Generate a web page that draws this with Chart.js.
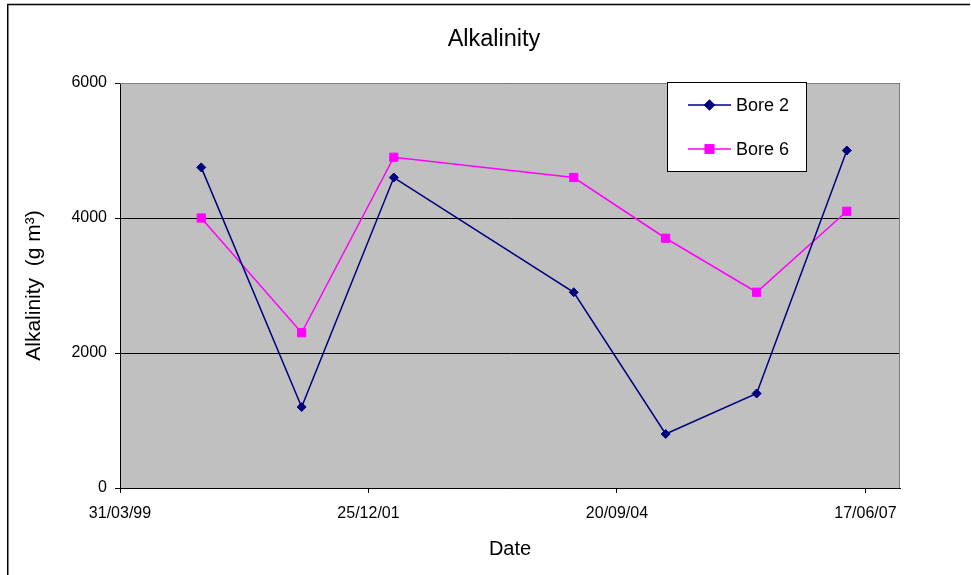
<!DOCTYPE html>
<html>
<head>
<meta charset="utf-8">
<title>Alkalinity</title>
<script src="https://cdn.jsdelivr.net/npm/chart.js@4/dist/chart.umd.min.js"></script>
<style>
  html, body { margin: 0; padding: 0; background: #fff; }
  #wrap { width: 971px; height: 575px; position: relative; }
</style>
</head>
<body>
<div id="wrap"><canvas id="chart" width="971" height="575"></canvas></div>
<script>
// Sampling dates and alkalinity readings (g m^-3 as labelled)
const sampleDates = ['2000-02-21', '2001-03-31', '2002-04-06', '2004-03-30', '2005-04-04', '2006-04-05', '2007-04-03'];
const bore2 = [4750, 1200, 4600, 2900, 800, 1400, 5000];
const bore6 = [4000, 2300, 4900, 4600, 3700, 2900, 4100];

// Date axis: ticks every 1000 days, starting 31/03/99
const xTickDates = ['1999-03-31', '2001-12-25', '2004-09-20', '2007-06-17'];
const xAxisEndDate = '2007-11-03';
const yTicks = [0, 2000, 4000, 6000];

// Spreadsheet-style day serial numbers
function serial(iso) {
  const [y, m, d] = iso.split('-').map(Number);
  return Date.UTC(y, m - 1, d) / 86400000 + 25569;
}
function fmtSerial(v) {
  const dt = new Date((v - 25569) * 86400000);
  const p = n => String(n).padStart(2, '0');
  return p(dt.getUTCDate()) + '/' + p(dt.getUTCMonth() + 1) + '/' + p(dt.getUTCFullYear() % 100);
}

const FONT = "'Liberation Sans', Arial, sans-serif";

const plotBackground = {
  id: 'plotBackground',
  beforeDraw(chart) {
    const { ctx, chartArea: a } = chart;
    ctx.save();
    ctx.fillStyle = '#fff';
    ctx.fillRect(0, 0, chart.width, chart.height);
    ctx.fillStyle = '#C0C0C0';
    ctx.fillRect(a.left, a.top, a.right - a.left, a.bottom - a.top);
    ctx.restore();
  }
};

const frameAndHeading = {
  id: 'frameAndHeading',
  afterDraw(chart) {
    const { ctx, chartArea: a } = chart;
    ctx.save();
    // grey top/right edge of the plot area
    ctx.strokeStyle = '#808080';
    ctx.lineWidth = 1;
    ctx.beginPath();
    ctx.moveTo(a.left, a.top + 0.5);
    ctx.lineTo(a.right - 0.5, a.top + 0.5);
    ctx.lineTo(a.right - 0.5, a.bottom);
    ctx.stroke();
    // outer chart border (top and left)
    ctx.strokeStyle = '#000';
    ctx.lineWidth = 1.5;
    ctx.beginPath();
    ctx.moveTo(7.75, chart.height);
    ctx.lineTo(7.75, 4.5);
    ctx.lineTo(970, 4.5);
    ctx.stroke();
    // heading
    ctx.fillStyle = '#000';
    ctx.font = '23.5px ' + FONT;
    ctx.textAlign = 'center';
    ctx.textBaseline = 'middle';
    ctx.fillText('Alkalinity', 494, 40);
    ctx.restore();
  }
};

const boxedLegend = {
  id: 'boxedLegend',
  afterDraw(chart) {
    const { ctx } = chart;
    const box = { x: 667.5, y: 82.5, w: 139, h: 89 };
    ctx.save();
    ctx.fillStyle = '#fff';
    ctx.fillRect(box.x, box.y, box.w, box.h);
    ctx.strokeStyle = '#000';
    ctx.lineWidth = 1;
    ctx.strokeRect(box.x, box.y, box.w, box.h);
    const rows = [105, 149];
    chart.data.datasets.forEach((ds, i) => {
      const y = rows[i];
      ctx.strokeStyle = ds.borderColor;
      ctx.lineWidth = ds.borderWidth;
      ctx.beginPath();
      ctx.moveTo(688, y);
      ctx.lineTo(731, y);
      ctx.stroke();
      Chart.helpers.drawPoint(ctx, {
        pointStyle: ds.pointStyle,
        radius: ds.pointRadius,
        borderWidth: 1,
        rotation: 0
      }, 709.5, y);
      ctx.fillStyle = ds.pointBackgroundColor;
      ctx.strokeStyle = ds.pointBorderColor;
      ctx.fill();
      ctx.stroke();
      ctx.fillStyle = '#000';
      ctx.font = '18px ' + FONT;
      ctx.textAlign = 'left';
      ctx.textBaseline = 'middle';
      ctx.fillText(ds.label, 736, y + 1);
    });
    ctx.restore();
  }
};

const toPoints = vals => vals.map((v, i) => ({ x: serial(sampleDates[i]), y: v }));

new Chart(document.getElementById('chart'), {
  type: 'line',
  data: {
    datasets: [
      {
        label: 'Bore 2',
        data: toPoints(bore2),
        borderColor: '#000080',
        backgroundColor: '#000080',
        pointBackgroundColor: '#000080',
        pointBorderColor: '#000080',
        borderWidth: 1.5,
        pointStyle: 'rectRot',
        pointRadius: 4.5,
        pointBorderWidth: 1,
        tension: 0
      },
      {
        label: 'Bore 6',
        data: toPoints(bore6),
        borderColor: '#FF00FF',
        backgroundColor: '#FF00FF',
        pointBackgroundColor: '#FF00FF',
        pointBorderColor: '#FF00FF',
        borderWidth: 1.5,
        pointStyle: 'rect',
        pointRadius: 5.8,
        pointBorderWidth: 1,
        tension: 0
      }
    ]
  },
  options: {
    responsive: false,
    animation: false,
    events: [],
    layout: { padding: { top: 83, right: 71, left: 0, bottom: 0 } },
    plugins: {
      legend: { display: false },
      title: { display: false },
      tooltip: { enabled: false }
    },
    scales: {
      x: {
        type: 'linear',
        min: serial(xTickDates[0]),
        max: serial(xAxisEndDate),
        afterBuildTicks: s => { s.ticks = xTickDates.map(d => ({ value: serial(d) })); },
        afterFit: s => { s.height = 87; },
        ticks: {
          autoSkip: false,
          maxRotation: 0,
          padding: 11,
          color: '#000',
          font: { family: FONT, size: 16 },
          callback: v => fmtSerial(v)
        },
        grid: { drawOnChartArea: false, drawTicks: true, tickLength: 5, color: '#000' },
        border: { color: '#000', width: 1 },
        title: {
          display: true,
          text: 'Date',
          color: '#000',
          font: { family: FONT, size: 20 },
          padding: { top: 0, bottom: 14 }
        }
      },
      y: {
        min: 0,
        max: 6000,
        afterBuildTicks: s => { s.ticks = yTicks.map(v => ({ value: v })); },
        afterFit: s => { s.width = 120; },
        ticks: {
          padding: 8,
          color: '#000',
          font: { family: FONT, size: 16 },
          callback: v => String(v)
        },
        grid: { drawTicks: true, tickLength: 5, color: '#000', lineWidth: 1 },
        border: { color: '#000', width: 1 },
        title: {
          display: true,
          text: 'Alkalinity  (g m³)',
          color: '#000',
          font: { family: FONT, size: 21 },
          padding: { top: 22, bottom: 0 }
        }
      }
    }
  },
  plugins: [plotBackground, frameAndHeading, boxedLegend]
});
</script>
</body>
</html>
